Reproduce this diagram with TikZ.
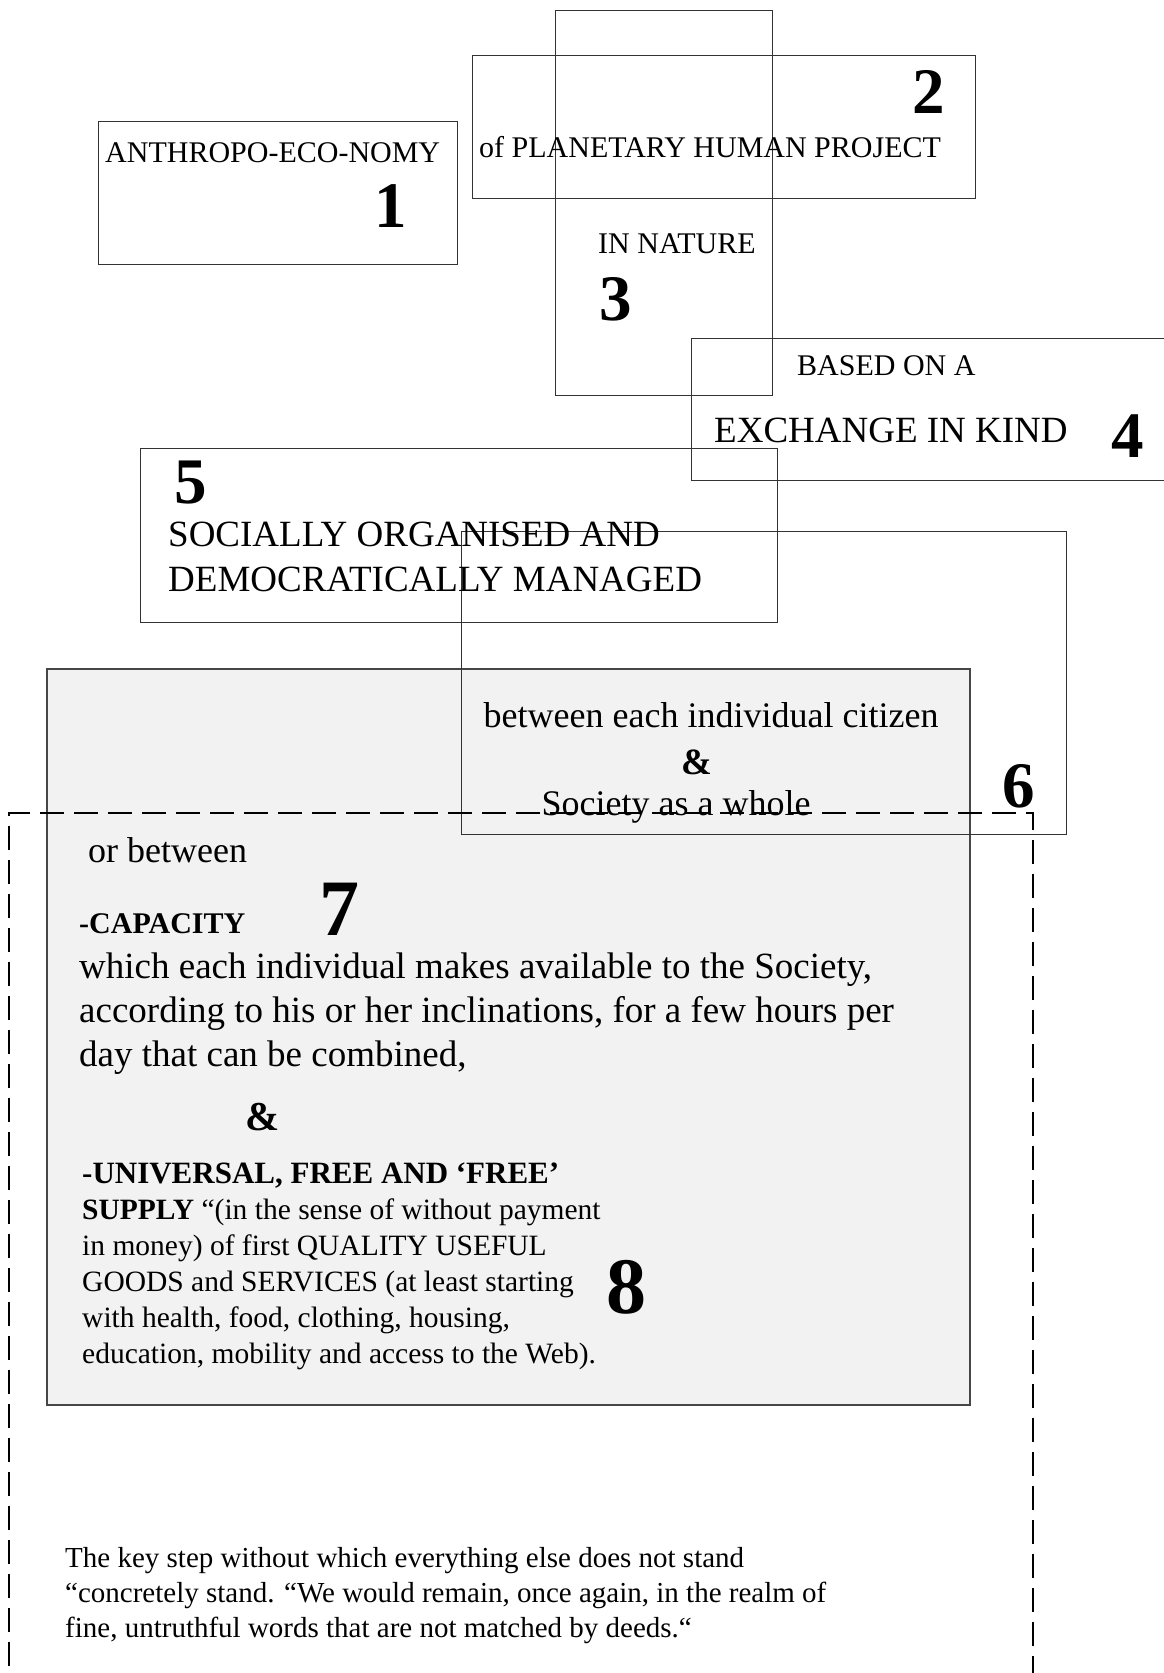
\documentclass[tikz,border=0pt]{standalone}
\usepackage{fontspec}
\setmainfont{Liberation Serif}
\usepackage{xcolor}
\usepackage{tikz}
\definecolor{panelgray}{RGB}{242,242,242}
\definecolor{edgegray}{RGB}{70,70,70}

\begin{document}
\begin{tikzpicture}[
        x=1pt, y=-1pt,
        frame/.style={draw=black!80, line width=1pt},
        panel/.style={draw=edgegray, line width=1.5pt, fill=panelgray},
        outline/.style={draw=black, line width=2.5pt, dash pattern=on 24pt off 10pt},
        label/.style={inner sep=0pt, anchor=base west, font=\fontsize{30}{36}\selectfont},
        biglabel/.style={inner sep=0pt, anchor=base west, font=\fontsize{36}{43}\selectfont},
        para/.style={inner sep=0pt, anchor=north west, align=left},
        num/.style={inner sep=0pt, anchor=base west, font=\fontsize{65}{70}\selectfont\bfseries},
        bignum/.style={inner sep=0pt, anchor=base west, font=\fontsize{80}{84}\selectfont\bfseries}
    ]
        \useasboundingbox (0,0) rectangle (1163,1673);

        % Frames
        \draw[frame] (98,121) rectangle (457,264);
        \draw[frame] (472,55) rectangle (975,198);
        \draw[frame] (555,10) rectangle (772,395);
        \draw[frame] (691,338) rectangle (1185,480);
        \draw[frame] (140,448) rectangle (777,622);
        \draw[panel] (47,669) rectangle (970,1405);
        \draw[frame] (461,531) rectangle (1066,834);

        % Top part
        \node[label] (anthro) at (105,162) {ANTHROPO-ECO-NOMY};
        \node[num] (num1) at (374,227) {1};
        \node[label] (project) at (479,157) {of PLANETARY HUMAN PROJECT};
        \node[num] (num2) at (912,113) {2};
        \node[label] (nature) at (598,253) {IN NATURE};
        \node[num] (num3) at (599,320) {3};
        \node[label] (based) at (797,375) {BASED ON A};
        \node[biglabel, font=\fontsize{37}{43}\selectfont] (exchange) at (714,442) {EXCHANGE IN KIND};
        \node[num] (num4) at (1111,457) {4};
        \node[num] (num5) at (174,503) {5};
        \node[para, font=\fontsize{37}{45}\selectfont] (social) at (168,522)
            {SOCIALLY ORGANISED AND\\DEMOCRATICALLY MANAGED};

        % Exchange partners
        \node[biglabel, anchor=base] (citizen) at (711,727) {between each individual citizen};
        \node[inner sep=0pt, anchor=base, font=\fontsize{37}{40}\selectfont\bfseries] (amp1) at (697,774) {\&};
        \node[biglabel, anchor=base] (whole) at (676,815) {Society as a whole};
        \node[num] (num6) at (1002,807) {6};

        % Grey panel
        \node[biglabel] (orbetween) at (88,862) {or between};
        \node[label, font=\fontsize{30}{36}\selectfont\bfseries] (capacity) at (79,933) {-CAPACITY};
        \node[bignum] (num7) at (319,935) {7};
        \node[para, font=\fontsize{37}{44}\selectfont] (capbody) at (79,953)
            {which each individual makes available to the Society,\\according to his or her inclinations, for a few hours per\\day that can be combined,};
        \node[inner sep=0pt, anchor=base west, font=\fontsize{41}{44}\selectfont\bfseries] (amp2) at (245,1130) {\&};
        \node[para, font=\fontsize{29.5}{36}\selectfont] (supply) at (82,1163)
            {{\fontsize{31}{36}\selectfont\bfseries -UNIVERSAL, FREE AND ‘FREE’}\\\textbf{SUPPLY} “(in the sense of without payment\\in money) of first QUALITY USEFUL\\GOODS and SERVICES (at least starting\\with health, food, clothing, housing,\\education, mobility and access to the Web).};
        \node[bignum] (num8) at (606,1313) {8};

        % Closing remark
        \node[para, font=\fontsize{29}{35}\selectfont] (keystep) at (65,1547)
            {The key step without which everything else does not stand\\“concretely stand. “We would remain, once again, in the realm of\\fine, untruthful words that are not matched by deeds.“};

        % Dashed frame
        \draw[outline] (9,1700) -- (9,813) -- (1033,813) -- (1033,1700);
    \end{tikzpicture}
\end{document}
